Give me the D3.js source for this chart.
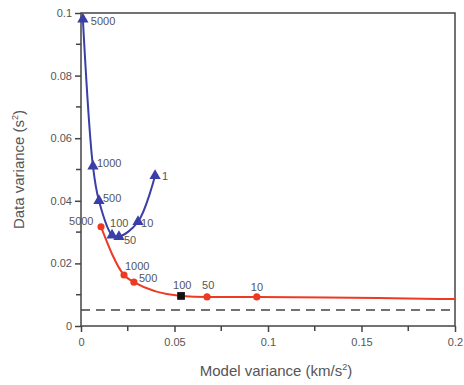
<!DOCTYPE html>
<html>
<head>
<meta charset="utf-8">
<script src="https://cdn.jsdelivr.net/npm/d3@7"></script>
<style>
  body { margin: 0; background: #fff; }
  text { font-family: Arial, "Liberation Sans", sans-serif; }
</style>
</head>
<body>
<svg id="chart" width="464" height="385"></svg>
<script>
'use strict';

// regularisation labels and values
const blueLabels = ['5000', '1000', '500', '100', '50', '10', '1'];
const blueX = [0.001, 0.0064, 0.0096, 0.0166, 0.0203, 0.0305, 0.0396];
const blueY = [0.098, 0.051, 0.040, 0.029, 0.0285, 0.0333, 0.048];

const redLabels = ['5000', '1000', '500', '100', '50', '10', ''];
const redX = [0.0107, 0.023, 0.0283, 0.0535, 0.0674, 0.094, 0.2];
const redY = [0.0317, 0.0163, 0.014, 0.0096, 0.0093, 0.0093, 0.0086];

const dashY = 0.0051;
const xTicks = [0, 0.05, 0.1, 0.15, 0.2];
const yTicks = [0, 0.02, 0.04, 0.06, 0.08, 0.1];

const svg = d3.select('#chart');
const margin = {left: 81, top: 13, right: 9, bottom: 59};
const width = 464 - margin.left - margin.right;
const height = 385 - margin.top - margin.bottom;

const x = d3.scaleLinear().domain([0, 0.2]).range([0, width]);
const y = d3.scaleLinear().domain([0, 0.1]).range([height, 0]);

const g = svg.append('g').attr('transform', `translate(${margin.left},${margin.top})`);

const axisColor = '#444';
const textColor = '#555';

// minor ticks
const xMinor = d3.range(0.025, 0.2, 0.05);
const yMinor = d3.range(0.01, 0.1, 0.02);

const fmt = d => d === 0 ? '0' : String(+d.toFixed(2));

const xAxis = g.append('g').attr('transform', `translate(0,${height})`)
    .call(d3.axisBottom(x).tickValues(xTicks).tickSize(6).tickPadding(6).tickFormat(fmt));
const yAxis = g.append('g')
    .call(d3.axisLeft(y).tickValues(yTicks).tickSize(6).tickPadding(3).tickFormat(fmt));

[xAxis, yAxis].forEach(a => {
    a.select('.domain').remove();
    a.selectAll('line').attr('stroke', axisColor).attr('stroke-width', 1.5);
    a.selectAll('text').style('font-size', '11px').attr('fill', textColor);
});

g.selectAll('.xminor').data(xMinor).enter().append('line')
    .attr('x1', d => x(d)).attr('x2', d => x(d))
    .attr('y1', height).attr('y2', height + 5)
    .attr('stroke', axisColor).attr('stroke-width', 1.5);
g.selectAll('.yminor').data(yMinor).enter().append('line')
    .attr('x1', 0).attr('x2', -5)
    .attr('y1', d => y(d)).attr('y2', d => y(d))
    .attr('stroke', axisColor).attr('stroke-width', 1.5);

// frame
g.append('rect').attr('width', width).attr('height', height)
    .attr('fill', 'none').attr('stroke', axisColor).attr('stroke-width', 1.5);

// dashed reference line
g.append('line')
    .attr('x1', 0).attr('x2', width)
    .attr('y1', y(dashY)).attr('y2', y(dashY))
    .attr('stroke', '#444').attr('stroke-width', 1.6)
    .attr('stroke-dasharray', '9,6');

const blue = blueX.map((v, i) => ({x: v, y: blueY[i], label: blueLabels[i]}));
const red = redX.map((v, i) => ({x: v, y: redY[i], label: redLabels[i]}));

const redLine = d3.line().x(d => x(d.x)).y(d => y(d.y)).curve(d3.curveMonotoneX);
const blueLine = d3.line().x(d => x(d.x)).y(d => y(d.y)).curve(d3.curveCatmullRom.alpha(0.5));

const blueColor = '#3a3ea6';
const redColor = '#ee3a22';

g.append('path').datum(red).attr('d', redLine)
    .attr('fill', 'none').attr('stroke', redColor).attr('stroke-width', 2);
g.append('path').datum(blue).attr('d', blueLine)
    .attr('fill', 'none').attr('stroke', blueColor).attr('stroke-width', 2);

g.selectAll('.bmark').data(blue).enter().append('path')
    .attr('transform', d => `translate(${x(d.x)},${y(d.y)})`)
    .attr('d', d3.symbol(d3.symbolTriangle, 55))
    .attr('fill', blueColor);

g.selectAll('.rmark').data(red.slice(0, 6)).enter().append('path')
    .attr('transform', d => `translate(${x(d.x)},${y(d.y)})`)
    .attr('d', d => d.label === '100' ? d3.symbol(d3.symbolSquare, 60)() : d3.symbol(d3.symbolCircle, 40)())
    .attr('fill', d => d.label === '100' ? '#111' : redColor);

// point labels: offsets relative to each marker
const blueOff = [[8, 6], [4, 1], [4, 1], [-2, -8], [5, 7], [3, 5], [7, 4]];
const redOff = [[-32, -2], [1, -5], [5, 0], [-8, -7], [-5, -8], [-6, -6]];

g.selectAll('.blab').data(blue).enter().append('text')
    .attr('x', (d, i) => x(d.x) + blueOff[i][0])
    .attr('y', (d, i) => y(d.y) + blueOff[i][1])
    .attr('fill', textColor)
    .style('font-size', '11px')
    .text(d => d.label);
g.selectAll('.rlab').data(red.slice(0, 6)).enter().append('text')
    .attr('x', (d, i) => x(d.x) + redOff[i][0])
    .attr('y', (d, i) => y(d.y) + redOff[i][1])
    .attr('fill', textColor)
    .style('font-size', '11px')
    .text(d => d.label);

// axis titles
const yt = svg.append('text')
    .attr('transform', `translate(24,${margin.top + height / 2}) rotate(-90)`)
    .attr('text-anchor', 'middle')
    .attr('fill', textColor)
    .style('font-size', '15px');
yt.append('tspan').text('Data variance (s');
yt.append('tspan').attr('dy', -6).style('font-size', '9px').text('2');
yt.append('tspan').attr('dy', 6).text(')');

const xt = svg.append('text')
    .attr('x', margin.left + width / 2 + 8)
    .attr('y', 376)
    .attr('text-anchor', 'middle')
    .attr('fill', textColor)
    .style('font-size', '15px');
xt.append('tspan').text('Model variance (km/s');
xt.append('tspan').attr('dy', -6).style('font-size', '9px').text('2');
xt.append('tspan').attr('dy', 6).text(')');
</script>
</body>
</html>
